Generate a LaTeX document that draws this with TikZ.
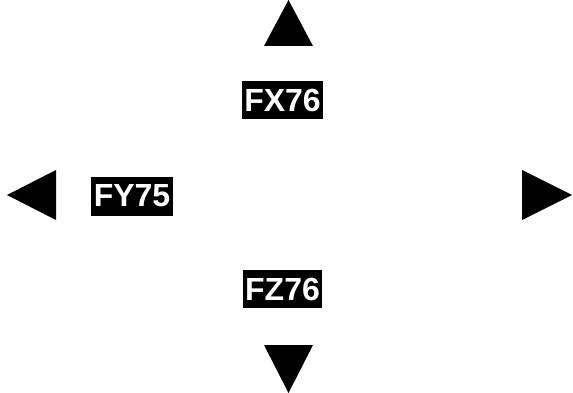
\documentclass[tikz,border=0pt]{standalone}
\usepackage{fontspec}
\setmainfont{Liberation Sans}
\begin{document}
\begin{tikzpicture}[x=1pt,y=-1pt,
  lbl/.style={fill=black,text=white,font=\bfseries\fontsize{32}{32}\selectfont,inner sep=0pt,minimum height=38pt,minimum width=81pt,anchor=center},
  tri/.style={fill=black}]
\useasboundingbox (0,0) rectangle (573,393);
\fill[tri] (264,46) -- (313,46) -- (288.5,0) -- cycle;
\fill[tri] (56,170) -- (56,220) -- (7,195) -- cycle;
\fill[tri] (522,170) -- (522,220) -- (572,195) -- cycle;
\fill[tri] (264,345) -- (313,345) -- (288.5,393) -- cycle;
\node[lbl] (fx) at (282.5,100.5) {FX76};
\node[lbl,minimum width=82pt,minimum height=39pt] (fy) at (132,196) {FY75};
\node[lbl,minimum width=79pt,minimum height=37.5pt] (fz) at (282.5,289) {FZ76};
\end{tikzpicture}
\end{document}
